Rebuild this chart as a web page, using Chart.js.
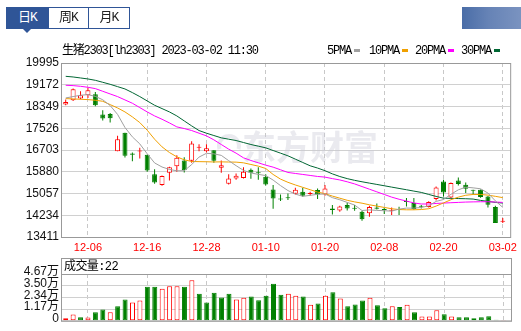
<!DOCTYPE html>
<html>
<head>
<meta charset="utf-8">
<script src="https://cdn.jsdelivr.net/npm/chart.js@4.4.1/dist/chart.umd.min.js"></script>
<style>
body { margin: 0; width: 521px; height: 331px; position: relative; overflow: hidden; background: #fff;
       font-family: "Liberation Mono", "Noto Sans CJK SC", monospace; }
canvas { position: absolute; left: 0; }
.abs { position: absolute; white-space: nowrap; }
.tab { position: absolute; top: 7px; height: 22px; box-sizing: border-box; border: 1px solid #2f5597;
       font-size: 13px; line-height: 20px; text-align: center; color: #222; background: #fff; letter-spacing: -1px; }
.tab.on { background: #2f5597; color: #fff; }
.txt { font-size: 12px; line-height: 14px; letter-spacing: -1.2px; color: #000; }
.sw { position: absolute; top: 49px; width: 6px; height: 3px; }
</style>
</head>
<body>
<canvas id="k-chart" width="521" height="258" style="top:0"></canvas>
<canvas id="vol-chart" width="521" height="73" style="top:258px"></canvas>

<div class="tab on" style="left:6px;width:43px">日K</div>
<div class="tab" style="left:48px;width:41px">周K</div>
<div class="tab" style="left:88px;width:42px">月K</div>
<div class="abs" style="left:23px;top:29px;width:0;height:0;border-left:4px solid transparent;border-right:4px solid transparent;border-top:4px solid #2f5597"></div>
<div class="abs" style="left:462px;top:7px;width:59px;height:22px;background:linear-gradient(90deg,#4a6da7,#6683b6 45%,#7a93c0)"></div>

<div class="abs txt" style="left:62px;top:44px">生猪2303[lh2303] 2023-03-02 11:30</div>
<div class="abs txt" style="left:327px;top:44px">5PMA</div>
<div class="sw" style="left:354px;background:#a0a0a0"></div>
<div class="abs txt" style="left:369px;top:44px">10PMA</div>
<div class="sw" style="left:402px;background:#f0a000"></div>
<div class="abs txt" style="left:415px;top:44px">20PMA</div>
<div class="sw" style="left:448px;background:#ff00ff"></div>
<div class="abs txt" style="left:461px;top:44px">30PMA</div>
<div class="sw" style="left:494px;background:#006633"></div>

<div class="abs txt" style="left:64px;top:260px;letter-spacing:-0.6px">成交量:22</div>

<script>
const dates = ['12-01','12-02','12-05','12-06','12-07','12-08','12-09','12-12','12-13','12-14',
               '12-15','12-16','12-19','12-20','12-21','12-22','12-23','12-26','12-27','12-28',
               '12-29','12-30','01-03','01-04','01-05','01-06','01-09','01-10','01-11','01-12',
               '01-13','01-16','01-17','01-18','01-19','01-20','01-30','01-31','02-01','02-02',
               '02-03','02-06','02-07','02-08','02-09','02-10','02-13','02-14','02-15','02-16',
               '02-17','02-20','02-21','02-22','02-23','02-24','02-27','02-28','03-01','03-02'];
const tickDates = ['12-06','12-16','12-28','01-10','01-20','02-08','02-20','03-02'];

const opens  = [18421,18585,18648,18774,18812,18044,18069,16659,17351,16571,
                16646,16520,15790,15375,15840,16092,16306,16294,16785,16659,
                16697,16029,15425,15627,15639,15954,15840,15690,15211,14846,
                14900,15048,15123,15040,15186,15022,14494,14418,14619,14510,
                14368,14305,14531,14445,14406,14470,14760,14695,14580,14544,
                14846,15513,14909,15551,15387,15180,15199,14947,14544,13990];
const highs  = [18610,19026,18925,19051,18900,18207,18107,17238,17351,16608,
                16785,16520,15979,15740,16067,16508,16432,17037,16923,16923,
                16697,16306,15790,15815,16054,16004,16054,15790,15375,15022,
                15060,15274,15274,15123,15249,15375,14619,14594,14708,14619,
                14393,14594,14683,14531,14531,14556,14884,14884,14619,14760,
                15325,15576,15470,15664,15476,15199,15210,14960,14594,14128];
const lows   = [18396,18560,18623,18673,18359,17817,17741,16659,16420,16281,
                16382,15878,15425,15350,15551,15878,15853,16218,16659,16608,
                16218,15840,15400,15576,15627,15614,15576,15362,14481,14771,
                14808,15022,14934,14972,14846,14972,14267,14368,14418,14406,
                14028,14179,14456,14280,14242,14242,14569,14443,14494,14530,
                14796,14947,14890,15362,15073,15010,14900,14531,13940,13940];
const closes = [18522,19001,18774,18963,18396,17893,17905,17112,16483,16520,
                16660,15929,15476,15715,16054,16407,15941,16948,16823,16772,
                16294,16130,15627,15727,15878,15840,15825,15400,14871,14830,
                14880,15199,14972,15055,15022,15249,14431,14569,14494,14480,
                14078,14544,14481,14431,14440,14430,14740,14469,14560,14733,
                15287,15098,15450,15413,15236,15160,14922,14632,13940,14005];

const ma5  = [18673,18724,18774,18799,18731,18605,18384,18051,17555,17200,
              16934,16560,16214,16060,15967,15916,15919,16150,16435,16578,
              16556,16500,16300,16110,15931,15835,15781,15736,15565,15355,
              15168,15036,14950,14987,15026,15040,14900,14820,14720,14620,
              14413,14436,14418,14406,14390,14466,14505,14503,14529,14592,
              14758,14829,15026,15196,15297,15271,15236,15073,14778,14532];
const ma10 = [18648,18635,18623,18610,18585,18547,18421,18295,18144,17956,
              17741,17452,17112,16823,16608,16445,16332,16269,16262,16258,
              16250,16254,16248,16244,16218,16155,16092,16004,15778,15601,
              15480,15380,15290,15200,15110,15050,14960,14880,14800,14740,
              14690,14630,14580,14530,14480,14450,14440,14440,14450,14480,
              14580,14700,14820,14920,14990,15020,15020,14995,14950,14900];
const ma20 = [19152,19139,19114,19076,19026,18925,18824,18724,18598,18472,
              18308,18144,17993,17867,17728,17578,17515,17440,17339,17238,
              17087,16911,16735,16584,16407,16306,16218,16130,16054,15954,
              15853,15815,15778,15740,15702,15677,15620,15570,15500,15420,
              15320,15220,15120,15020,14920,14840,14770,14700,14660,14660,
              14680,14695,14708,14720,14733,14740,14745,14745,14735,14720];
const ma30 = [19491,19466,19429,19391,19340,19265,19189,19101,19013,18875,
              18724,18560,18396,18270,18144,17993,17804,17616,17439,17339,
              17251,17163,17112,17062,16986,16911,16848,16785,16684,16584,
              16483,16357,16231,16105,16020,15920,15800,15700,15620,15555,
              15501,15450,15400,15350,15299,15249,15199,15148,15098,15022,
              14947,14880,14872,14866,14859,14846,14796,14758,14720,14695];

const volumes = [2600,6200,3600,3300,8500,11400,8500,14400,21200,18300,
                 20200,34000,34000,32000,34600,34600,34000,40500,27100,18300,
                 28100,23200,27100,21200,22900,24200,20600,25100,36900,26100,
                 27100,25100,24200,16000,17300,25100,28400,22200,14400,16300,
                 20200,22900,15400,12400,14400,13700,16000,8500,4200,4200,
                 10500,6500,4200,3600,3600,2600,3600,4600,1000,700];

const priceTicks = [13411,14234,15057,15880,16703,17526,18349,19172,19995];
const volTicks = [0,11675,23350,35025,46700];
const volTickLabels = ['0','1.17万','2.34万','3.50万','4.67万'];

const RED = '#ff0000';
const GREEN = '#008000';
const GRID = '#d0d0d0';
const tickIdx = tickDates.map(d => dates.indexOf(d));
const isUp = closes.map((c, i) => c >= opens[i]);
const volUp = closes.map((c, i) => i === 0 || c >= closes[i - 1]);
const xy = (arr) => arr.map((v, i) => ({ x: i, y: v }));

const framePlugin = {
    id: 'frame',
    afterDraw(chart, args, opts) {
        const { ctx, chartArea: a } = chart;
        const top = opts.panelTop !== undefined ? opts.panelTop : a.top;
        ctx.save();
        ctx.strokeStyle = '#999';
        ctx.lineWidth = 1;
        ctx.strokeRect(a.left - 0.5, top + 0.5, a.right - a.left + 1, a.bottom - top);
        if (opts.panelTop !== undefined) {
            ctx.beginPath();
            ctx.moveTo(a.left - 0.5, a.top + 0.5);
            ctx.lineTo(a.right + 0.5, a.top + 0.5);
            ctx.stroke();
        }
        ctx.restore();
    }
};

const watermarkPlugin = {
    id: 'watermark',
    beforeDatasetsDraw(chart) {
        const ctx = chart.ctx;
        ctx.save();
        ctx.fillStyle = 'rgba(200,200,212,0.38)';
        ctx.font = 'bold 34px "Noto Sans CJK SC"';
        ctx.textBaseline = 'alphabetic';
        ctx.fillText('东方财富', 242, 160);
        ctx.strokeStyle = 'rgba(200,200,212,0.38)';
        ctx.lineWidth = 4;
        ctx.beginPath();
        ctx.arc(229, 146, 10, Math.PI * 0.9, Math.PI * 2.1);
        ctx.stroke();
        ctx.restore();
    }
};

const xScale = (showLabels) => ({
    type: 'linear',
    min: -0.5,
    max: 60,
    offset: false,
    afterBuildTicks: (s) => { s.ticks = tickIdx.map(v => ({ value: v })); },
    grid: { offset: false, drawTicks: false, color: '#c8c8c8', lineWidth: 1 },
    border: { display: false, dash: [4, 3] },
    ticks: {
        display: showLabels,
        autoSkip: false,
        maxRotation: 0,
        color: RED,
        padding: 4,
        font: { family: 'Liberation Sans', size: 11 },
        callback: (v) => dates[v]
    },
    afterFit: (s) => { s.height = showLabels ? 21 : 0; }
});

const maLine = (label, data, color, order) => ({
    type: 'line', label, data: xy(data), borderColor: color, borderWidth: 1,
    pointRadius: 0, tension: 0, order
});

const kChart = new Chart(document.getElementById('k-chart'), {
    type: 'bar',
    data: {
        datasets: [
            {
                label: 'wick',
                data: lows.map((l, i) => ({ x: i, y: [l, highs[i]] })),
                backgroundColor: isUp.map(u => u ? RED : GREEN),
                borderWidth: 0, barThickness: 1, grouped: false, inflateAmount: 0, order: 6
            },
            {
                label: 'body',
                data: opens.map((o, i) => ({ x: i, y: [o, closes[i]] })),
                backgroundColor: isUp.map(u => u ? '#ffffff' : GREEN),
                borderColor: isUp.map(u => u ? RED : GREEN),
                borderWidth: 1, borderSkipped: false, barThickness: 5, minBarLength: 1,
                grouped: false, inflateAmount: 0, order: 5
            },
            maLine('30PMA', ma30, '#006633', 4),
            maLine('20PMA', ma20, '#ff00ff', 3),
            maLine('10PMA', ma10, '#f0a000', 2),
            maLine('5PMA', ma5, '#a0a0a0', 1)
        ]
    },
    options: {
        responsive: false,
        animation: false,
        events: [],
        layout: { padding: { top: 63, right: 10, bottom: 0, left: 0 } },
        plugins: { legend: { display: false }, tooltip: { enabled: false }, frame: {} },
        scales: {
            x: xScale(true),
            y: {
                min: 13411,
                max: 19995,
                afterBuildTicks: (s) => { s.ticks = priceTicks.map(v => ({ value: v })); },
                grid: { color: GRID, drawTicks: false },
                border: { display: false },
                ticks: {
                    color: '#111', padding: 3, autoSkip: false,
                    font: { family: 'Liberation Sans', size: 12 },
                    callback: (v) => String(v)
                },
                afterFit: (s) => { s.width = 62; }
            }
        }
    },
    plugins: [watermarkPlugin, framePlugin]
});

const volChart = new Chart(document.getElementById('vol-chart'), {
    type: 'bar',
    data: {
        datasets: [{
            label: '成交量',
            data: xy(volumes),
            backgroundColor: volUp.map(u => u ? '#ffffff' : GREEN),
            borderColor: volUp.map(u => u ? RED : GREEN),
            borderWidth: 1, borderSkipped: false, barThickness: 5, inflateAmount: 0
        }]
    },
    options: {
        responsive: false,
        animation: false,
        events: [],
        layout: { padding: { top: 16, right: 10, bottom: 9, left: 0 } },
        plugins: { legend: { display: false }, tooltip: { enabled: false }, frame: { panelTop: 0 } },
        scales: {
            x: xScale(false),
            y: {
                min: 0,
                max: 46700,
                afterBuildTicks: (s) => { s.ticks = volTicks.map(v => ({ value: v })); },
                grid: { color: GRID, drawTicks: false },
                border: { display: false },
                ticks: {
                    color: '#111', padding: 3, labelOffset: -2, autoSkip: false,
                    font: { family: '"Liberation Sans", "Noto Sans CJK SC"', size: 12 },
                    callback: (v, i) => volTickLabels[i]
                },
                afterFit: (s) => { s.width = 62; }
            }
        }
    },
    plugins: [framePlugin]
});
</script>
</body>
</html>
